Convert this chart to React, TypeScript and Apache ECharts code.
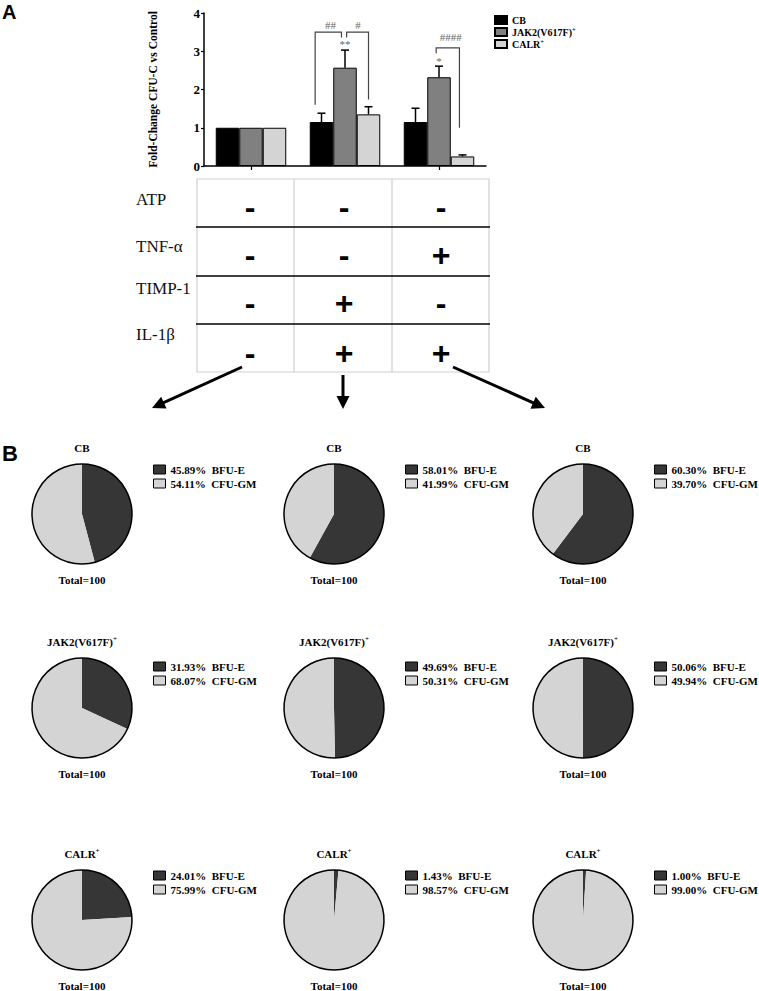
import React, { useEffect, useRef } from 'react';
import * as echarts from 'echarts';

// ---------- DATA ----------
const groups = ['Control', 'TIMP-1 + IL-1β', 'TNF-α + IL-1β'];
const barSeriesNames = ['CB', 'JAK2(V617F)+', 'CALR+'];
const cbValues = [1.0, 1.15, 1.15];
const jakValues = [1.0, 2.57, 2.32];
const calrValues = [1.0, 1.35, 0.25];
const cbErr = [0, 0.23, 0.36];
const jakErr = [0, 0.46, 0.29];
const calrErr = [0, 0.2, 0.04];
const yMin = 0;
const yMax = 4;
const yInterval = 1;

// brackets: [group, leftSlot, rightSlot, top, leftEnd, rightEnd]
const brackets = [
  [1, -1.27, -0.15, 3.5, 1.6, 3.36],
  [1, 0.07, 1.0, 3.5, 3.36, 1.74],
  [2, -0.12, 0.87, 3.09, 2.95, 1.0],
];
// significance labels: [group, slot, value]
const sigPositions = [
  [1, -0.62, 3.68],
  [1, 0.55, 3.68],
  [1, 0, 3.2],
  [2, 0.5, 3.36],
  [2, 0, 2.75],
];
const sigTexts = ['##', '#', '**', '####', '*'];

const tableRowLabels = ['ATP', 'TNF-α', 'TIMP-1', 'IL-1β'];
const tableSigns = [
  ['-', '-', '-'],
  ['-', '-', '+'],
  ['-', '+', '-'],
  ['-', '+', '+'],
];

const pieRowTitles = ['CB', 'JAK2(V617F)+', 'CALR+'];
const bfuE = [
  [45.89, 58.01, 60.3],
  [31.93, 49.69, 50.06],
  [24.01, 1.43, 1.0],
];
const cfuGM = [
  [54.11, 41.99, 39.7],
  [68.07, 50.31, 49.94],
  [75.99, 98.57, 99.0],
];
const pieTotals = [
  [100, 100, 100],
  [100, 100, 100],
  [100, 100, 100],
];
const pieCategories = ['BFU-E', 'CFU-GM'];

// ---------- LAYOUT ----------
const SERIF = "'Liberation Serif', 'Times New Roman', serif";
const SANS = "'Liberation Sans', Arial, sans-serif";
const pieColX = [82, 334, 583];
const pieRowY = [514, 708, 920];
const pieLegendDy = [-50, -47, -50];
const PIE_R = 50;
const tableLeft = 197;
const tableRight = 489;
const tableRowTops = [179, 227, 276, 324, 372];
const tableColX = [294, 392];
const signX = [250, 344, 441];
const signY = [207, 255, 303, 353];
const labelY = [199, 246, 288, 334];
const arrows = [
  [242, 367, 152, 408],
  [343, 375, 343, 409],
  [453, 367, 545, 408],
];

function supRich(label: string, main: string, sup: string) {
  return label.endsWith('+') ? `{${main}|${label.slice(0, -1)}}{${sup}|+}` : `{${main}|${label}}`;
}

function buildOption() {
  const barColors = ['#000000', '#808080', '#d4d4d4'];
  const barVals = [cbValues, jakValues, calrValues];
  const barErrs = [cbErr, jakErr, calrErr];

  const series: any[] = barSeriesNames.map((name, i) => ({
    name,
    type: 'bar',
    data: barVals[i],
    barWidth: '25%',
    barGap: '0%',
    itemStyle: { color: barColors[i], borderColor: '#000', borderWidth: 1 },
    silent: true,
    z: 2,
  }));

  const errData: number[][] = [];
  barVals.forEach((vals, s) => {
    vals.forEach((v, g) => {
      if (barErrs[s][g] > 0) errData.push([g, v, v + barErrs[s][g], s - 1]);
    });
  });

  series.push({
    type: 'custom',
    silent: true,
    z: 3,
    encode: { x: 0, y: [1, 2] },
    data: errData,
    renderItem: (params: any, api: any) => {
      const g = api.value(0);
      const v = api.value(1);
      const hi = api.value(2);
      const slot = api.value(3);
      const band = api.size([1, 0])[0];
      const bw = band * 0.25;
      const p0 = api.coord([g, v]);
      const p1 = api.coord([g, hi]);
      const x = p0[0] + slot * bw;
      const cap = 4;
      return {
        type: 'group',
        children: [
          { type: 'line', shape: { x1: x, y1: p0[1], x2: x, y2: p1[1] }, style: { stroke: '#000', lineWidth: 1.5 } },
          { type: 'line', shape: { x1: x - cap, y1: p1[1], x2: x + cap, y2: p1[1] }, style: { stroke: '#000', lineWidth: 1.5 } },
        ],
      };
    },
  });

  series.push({
    type: 'custom',
    silent: true,
    z: 4,
    encode: { x: 0, y: 3 },
    data: brackets,
    renderItem: (params: any, api: any) => {
      const g = api.value(0);
      const sl = api.value(1);
      const sr = api.value(2);
      const top = api.value(3);
      const le = api.value(4);
      const re = api.value(5);
      const band = api.size([1, 0])[0];
      const bw = band * 0.25;
      const c = api.coord([g, top]);
      const xl = c[0] + sl * bw;
      const xr = c[0] + sr * bw;
      const yl = api.coord([g, le])[1];
      const yr = api.coord([g, re])[1];
      return {
        type: 'polyline',
        shape: { points: [[xl, yl], [xl, c[1]], [xr, c[1]], [xr, yr]] },
        style: { stroke: '#444', lineWidth: 1.2, fill: null },
      };
    },
  });

  series.push({
    type: 'custom',
    silent: true,
    z: 5,
    encode: { x: 0, y: 2 },
    data: sigPositions,
    renderItem: (params: any, api: any) => {
      const g = api.value(0);
      const slot = api.value(1);
      const v = api.value(2);
      const band = api.size([1, 0])[0];
      const bw = band * 0.25;
      const c = api.coord([g, v]);
      return {
        type: 'text',
        x: c[0] + slot * bw,
        y: c[1],
        style: {
          text: sigTexts[params.dataIndex],
          fill: '#666',
          fontFamily: SERIF,
          fontSize: 11,
          align: 'center',
          verticalAlign: 'middle',
          textAlign: 'center',
          textVerticalAlign: 'middle',
        },
      };
    },
  });

  const legends: any[] = [
    {
      data: barSeriesNames,
      orient: 'vertical',
      left: 494,
      top: 15,
      padding: 0,
      itemWidth: 12,
      itemHeight: 8,
      itemGap: 1,
      icon: 'rect',
      selectedMode: false,
      formatter: (n: string) => supRich(n, 't', 's'),
      textStyle: {
        color: '#000',
        rich: {
          t: { fontFamily: SERIF, fontWeight: 'bold', fontSize: 10, color: '#000', lineHeight: 12 },
          s: { fontFamily: SERIF, fontWeight: 'bold', fontSize: 6.5, color: '#000', verticalAlign: 'top' },
        },
      },
    },
  ];

  const displayMap: Record<string, string> = {};
  const graphics: any[] = [];

  pieRowTitles.forEach((title, r) => {
    pieColX.forEach((cx, c) => {
      const cy = pieRowY[r];
      const keys = pieCategories.map((cat) => `${title}#${c}#${cat}`);
      const vals = [bfuE[r][c], cfuGM[r][c]];
      keys.forEach((k, i) => {
        displayMap[k] = `{v|${vals[i].toFixed(2)}%}{k|${pieCategories[i]}}`;
      });
      series.push({
        type: 'pie',
        center: [cx, cy],
        radius: PIE_R,
        startAngle: 90,
        clockwise: true,
        silent: true,
        label: { show: false },
        labelLine: { show: false },
        emphasis: { disabled: true },
        itemStyle: { borderWidth: 0 },
        data: [
          { name: keys[0], value: vals[0], itemStyle: { color: '#363636' } },
          { name: keys[1], value: vals[1], itemStyle: { color: '#d4d4d4' } },
        ],
        z: 2,
      });
      series.push({
        type: 'pie',
        center: [cx, cy],
        radius: PIE_R,
        silent: true,
        label: { show: false },
        labelLine: { show: false },
        emphasis: { disabled: true },
        data: [{ name: `outline#${r}#${c}`, value: pieTotals[r][c], itemStyle: { color: 'rgba(0,0,0,0)', borderColor: '#000', borderWidth: 1.5 } }],
        z: 3,
      });
      legends.push({
        data: keys,
        orient: 'vertical',
        left: cx + 71,
        top: cy + pieLegendDy[r],
        padding: 0,
        itemWidth: 12,
        itemHeight: 9,
        itemGap: 3,
        icon: 'rect',
        selectedMode: false,
        itemStyle: { borderColor: '#000', borderWidth: 1 },
        formatter: (n: string) => displayMap[n],
        textStyle: {
          color: '#000',
          rich: {
            v: { fontFamily: SERIF, fontWeight: 'bold', fontSize: 11, color: '#000', padding: [0, 5.5, 0, 0], lineHeight: 12 },
            k: { fontFamily: SERIF, fontWeight: 'bold', fontSize: 11, color: '#000', lineHeight: 12 },
          },
        },
      });
      graphics.push({
        type: 'text',
        x: cx,
        y: cy - 66,
        style: {
          text: supRich(title, 't', 's'),
          align: 'center',
          verticalAlign: 'middle',
          textAlign: 'center',
          textVerticalAlign: 'middle',
          rich: {
            t: { fontFamily: SERIF, fontWeight: 'bold', fontSize: 11, fill: '#000', lineHeight: 13 },
            s: { fontFamily: SERIF, fontWeight: 'bold', fontSize: 7, fill: '#000', verticalAlign: 'top' },
          },
        },
      });
      graphics.push({
        type: 'text',
        x: cx,
        y: cy + 66,
        style: {
          text: `Total=${pieTotals[r][c]}`,
          fontFamily: SERIF,
          fontWeight: 'bold',
          fontSize: 11,
          fill: '#000',
          align: 'center',
          verticalAlign: 'middle',
          textAlign: 'center',
          textVerticalAlign: 'middle',
        },
      });
    });
  });

  // panel letters
  graphics.push({ type: 'text', x: 2, y: 12, style: { text: 'A', fontFamily: SANS, fontWeight: 'bold', fontSize: 20, fill: '#000', verticalAlign: 'middle', textVerticalAlign: 'middle' } });
  graphics.push({ type: 'text', x: 2, y: 453, style: { text: 'B', fontFamily: SANS, fontWeight: 'bold', fontSize: 22, fill: '#000', verticalAlign: 'middle', textVerticalAlign: 'middle' } });

  // table
  const tTop = tableRowTops[0];
  const tBot = tableRowTops[tableRowTops.length - 1];
  graphics.push({ type: 'rect', shape: { x: tableLeft, y: tTop, width: tableRight - tableLeft, height: tBot - tTop }, style: { fill: 'none', stroke: '#cfcfcf', lineWidth: 1.2 } });
  tableColX.forEach((x) => {
    graphics.push({ type: 'line', shape: { x1: x, y1: tTop, x2: x, y2: tBot }, style: { stroke: '#cfcfcf', lineWidth: 1.2 } });
  });
  tableRowTops.slice(1, -1).forEach((y) => {
    graphics.push({ type: 'line', shape: { x1: tableLeft - 1, y1: y, x2: tableRight + 1, y2: y }, style: { stroke: '#000', lineWidth: 1.5 } });
  });
  tableRowLabels.forEach((lab, i) => {
    graphics.push({
      type: 'text',
      x: 136,
      y: labelY[i],
      style: { text: lab, fontFamily: SERIF, fontSize: 17, fill: '#111', verticalAlign: 'middle', textVerticalAlign: 'middle' },
    });
    tableSigns[i].forEach((s, j) => {
      graphics.push({
        type: 'text',
        x: signX[j],
        y: signY[i],
        style: {
          text: s,
          fontFamily: SANS,
          fontWeight: 'bold',
          fontSize: 32,
          fill: '#000',
          align: 'center',
          verticalAlign: 'middle',
          textAlign: 'center',
          textVerticalAlign: 'middle',
        },
      });
    });
  });

  // arrows
  arrows.forEach(([x1, y1, x2, y2]) => {
    const dx = x2 - x1;
    const dy = y2 - y1;
    const len = Math.sqrt(dx * dx + dy * dy);
    const ux = dx / len;
    const uy = dy / len;
    const nx = -uy;
    const ny = ux;
    const L = 13;
    const W = 6.5;
    const bx = x2 - ux * L;
    const by = y2 - uy * L;
    graphics.push({ type: 'line', shape: { x1, y1, x2: bx + ux * 2, y2: by + uy * 2 }, style: { stroke: '#000', lineWidth: 3 } });
    graphics.push({ type: 'polygon', shape: { points: [[x2, y2], [bx + nx * W, by + ny * W], [bx - nx * W, by - ny * W]] }, style: { fill: '#000' } });
  });

  return {
    animation: false,
    backgroundColor: '#fff',
    grid: { left: 204, top: 13, width: 282, height: 153 },
    xAxis: {
      type: 'category',
      data: groups,
      axisLine: { show: true, lineStyle: { color: '#000', width: 1.5 } },
      axisTick: { show: true, alignWithLabel: true, length: 4, lineStyle: { color: '#000', width: 1.2 } },
      axisLabel: { show: false },
      splitLine: { show: false },
    },
    yAxis: {
      type: 'value',
      min: yMin,
      max: yMax,
      interval: yInterval,
      name: 'Fold-Change CFU-C vs Control',
      nameLocation: 'middle',
      nameGap: 45,
      nameRotate: 90,
      nameTextStyle: { fontFamily: SERIF, fontWeight: 'bold', fontSize: 11.5, color: '#000' },
      axisLine: { show: true, lineStyle: { color: '#000', width: 1.5 } },
      axisTick: { show: true, length: 3, lineStyle: { color: '#000', width: 1.2 } },
      axisLabel: { fontFamily: SERIF, fontWeight: 'bold', fontSize: 13, color: '#000', margin: 4 },
      splitLine: { show: false },
    },
    legend: legends,
    series,
    graphic: graphics,
  };
}

export default function App() {
  const ref = useRef<HTMLDivElement>(null);
  useEffect(() => {
    if (!ref.current) return;
    const chart = echarts.init(ref.current, null, { renderer: 'svg' });
    chart.setOption(buildOption() as any);
    return () => {
      chart.dispose();
    };
  }, []);
  return <div ref={ref} style={{ position: 'absolute', left: 0, top: 0, width: 759, height: 991 }} />;
}
